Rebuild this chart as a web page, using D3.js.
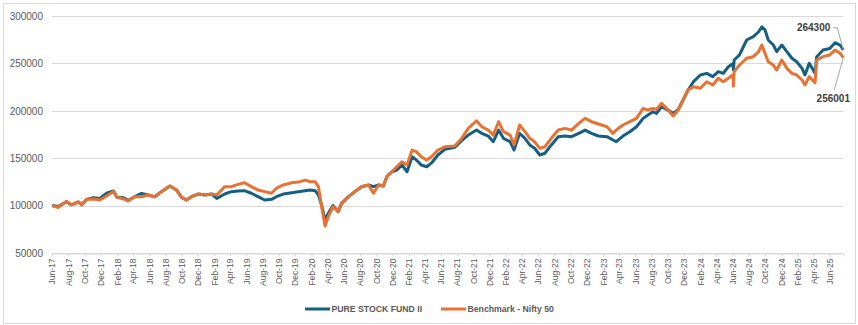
<!DOCTYPE html>
<html><head><meta charset="utf-8">
<script src="https://cdn.jsdelivr.net/npm/d3@7"></script>
<style>html,body{margin:0;padding:0;background:#fff;} svg{display:block;font-family:"Liberation Sans",Arial,sans-serif;}</style>
</head><body><svg id="c" width="858" height="325"></svg>
<script>
const dates = ["2017-06-01","2017-06-24","2017-07-25","2017-08-13","2017-09-08","2017-09-21","2017-10-09","2017-11-03","2017-11-28","2017-12-23",
"2018-01-18","2018-01-31","2018-02-25","2018-03-14","2018-04-08","2018-05-03","2018-05-28","2018-06-22","2018-07-17","2018-08-18",
"2018-09-12","2018-10-01","2018-10-19","2018-11-07","2018-12-02","2018-12-28","2019-01-22","2019-02-10","2019-03-12","2019-04-06",
"2019-05-01","2019-05-25","2019-06-20","2019-07-15","2019-08-09","2019-09-04","2019-09-22","2019-10-18","2019-11-19","2019-12-13",
"2020-01-08","2020-01-27","2020-02-15","2020-02-27","2020-03-10","2020-03-23","2020-04-04","2020-04-22","2020-05-11","2020-05-24",
"2020-06-19","2020-07-13","2020-08-07","2020-09-02","2020-09-21","2020-10-10","2020-10-28","2020-11-10","2020-11-29","2020-12-17",
"2021-01-06","2021-01-25","2021-02-13","2021-03-01","2021-03-19","2021-04-09","2021-04-27","2021-05-21","2021-06-16","2021-07-23",
"2021-08-18","2021-09-12","2021-10-13","2021-11-02","2021-11-26","2021-12-15","2022-01-04","2022-01-22","2022-02-16","2022-03-03",
"2022-03-24","2022-04-13","2022-05-01","2022-05-19","2022-06-08","2022-06-27","2022-07-21","2022-08-16","2022-09-10","2022-10-05",
"2022-11-01","2022-11-25","2022-12-19","2023-01-14","2023-02-15","2023-03-10","2023-03-22","2023-04-16","2023-05-12","2023-06-06",
"2023-07-01","2023-07-19","2023-08-07","2023-08-20","2023-09-08","2023-09-27","2023-10-22","2023-11-10","2023-11-28","2023-12-17",
"2024-01-06","2024-02-01","2024-02-25","2024-03-19","2024-04-08","2024-04-27","2024-05-16","2024-06-03","2024-06-04","2024-06-07",
"2024-06-27","2024-07-24","2024-08-18","2024-09-07","2024-09-19","2024-10-01","2024-10-13","2024-11-01","2024-11-14","2024-12-03",
"2024-12-22","2025-01-10","2025-01-28","2025-02-17","2025-02-28","2025-03-16","2025-04-07","2025-04-13","2025-05-07","2025-06-01",
"2025-06-21","2025-07-10","2025-07-22"];
const fund = [100000,99000,104000,100800,103800,100800,106600,108300,107600,113000,
115400,108700,108300,105500,109400,112800,111100,109400,114700,120600,
116400,108700,105900,109400,112200,111100,112200,107600,112200,114700,
115400,115700,113000,109400,105900,106600,109400,112200,113600,114700,
115700,116400,115700,111100,100600,84800,91800,100000,93600,102400,
109400,114700,119900,121700,120000,121700,120600,130500,135700,137500,
142800,135700,151600,148100,142800,141000,145000,153400,159300,161500,
168500,174400,179700,176200,173400,167400,179700,171000,167400,158600,
176200,171000,164000,160500,153400,155200,164000,172700,173400,172700,
176200,179700,176200,173400,172700,169200,167400,173400,177900,183200,
192000,195600,199000,197300,204300,201500,197300,201500,211400,221900,
230700,237800,239500,236000,241300,239500,246500,250000,243000,253600,
258900,274700,278200,283400,288700,285200,274700,269400,262400,269400,
262400,255400,251800,244800,237800,250100,239500,257100,264100,265800,
271800,269400,264300];
const bench = [100000,98000,104500,100800,103800,100800,106600,106900,105900,110200,
115000,108700,107000,104800,109400,109400,111100,109400,114700,120600,
116400,108700,105900,109400,112200,111100,112200,111100,120000,120000,
122400,124100,120000,116400,114700,113000,118300,121800,124100,124800,
126900,125200,125200,120000,98800,78500,88300,98800,93600,102400,
109400,114700,119900,121700,113000,121700,120600,130500,135700,141000,
146300,142800,158600,156900,151600,148100,151600,158600,162100,162800,
170900,181500,189500,183200,179700,174400,188500,178000,174400,164000,
185000,178000,171000,167400,160400,162100,171000,179700,181500,179700,
186800,192000,188500,186100,183200,176200,179700,185000,188500,192000,
202600,200800,202600,201500,207900,202600,194500,200800,211400,221900,
225400,223700,230700,227200,234300,230700,234300,238000,226000,241300,
248300,255400,257100,262400,269400,260600,251800,248300,243000,253600,
244800,239500,237800,232500,227200,236000,229600,253600,257100,258900,
264100,260600,256001];
const seriesNames = ["PURE STOCK FUND II","Benchmark - Nifty 50"];
const seriesColors = ["#156082","#E97132"];
const yTicks = [50000,100000,150000,200000,250000,300000];
const xStart = "2017-06-01";

const parse = d3.timeParse("%Y-%m-%d");
const D = dates.map(parse);
const svg = d3.select("#c");
svg.append("rect").attr("width",858).attr("height",325).attr("fill","#fff");
svg.append("rect").attr("x",3.5).attr("y",3.5).attr("width",852).attr("height",320)
  .attr("fill","none").attr("stroke","#d9d9d9").attr("stroke-width",1);

const x = d3.scaleTime().domain([parse(xStart), D[D.length-1]]).range([52, 843.3]);
const y = d3.scaleLinear().domain([50000,300000]).range([253,16]);

// gridlines
svg.append("g").selectAll("line").data(yTicks).join("line")
  .attr("x1",52).attr("x2",843.3)
  .attr("y1",d=>Math.round(y(d))+0.5).attr("y2",d=>Math.round(y(d))+0.5)
  .attr("stroke","#d9d9d9").attr("stroke-width",1);

// y axis labels
const ya = svg.append("g").attr("transform","translate(52,0)")
  .call(d3.axisLeft(y).tickValues(yTicks).tickSize(0).tickPadding(9).tickFormat(d3.format("d")));
ya.select(".domain").remove();
ya.selectAll("text").attr("fill","#595959").style("font-size","10px").style("font-family","'Liberation Sans',Arial,sans-serif");

// x axis
const xTicks = d3.timeMonth.range(parse(xStart), D[D.length-1], 2);
const xa = svg.append("g").attr("transform",`translate(0,${Math.round(y(50000))+0.5})`)
  .call(d3.axisBottom(x).tickValues(xTicks).tickSize(3).tickFormat(d3.timeFormat("%b-%y")));
xa.select(".domain").attr("stroke","#d9d9d9");
xa.selectAll(".tick line").attr("stroke","#d9d9d9");
xa.selectAll("text").attr("fill","#595959")
  .style("font-size","8.5px").style("font-family","'Liberation Sans Narrow','Liberation Sans',Arial,sans-serif")
  .attr("transform","rotate(-90)").attr("x",-5).attr("y",0).attr("dy","0.34em").style("text-anchor","end");

// lines
const line = d3.line().x((d,i)=>x(D[i])).y(d=>y(d));
[fund, bench].forEach((s,k)=>{
  svg.append("path").datum(s).attr("d",line).attr("fill","none")
    .attr("stroke",seriesColors[k]).attr("stroke-width",3).attr("stroke-linejoin","round");
});

// end labels
const lx = x(D[D.length-1]);
const fy = y(fund[fund.length-1]), by = y(bench[bench.length-1]);
svg.append("polyline").attr("points",`${lx-10},${fy-22} ${lx-6},${fy-22} ${lx},${fy}`)
  .attr("fill","none").attr("stroke","#a6a6a6").attr("stroke-width",1);
svg.append("text").attr("x",lx-13).attr("y",fy-18.5).attr("text-anchor","end")
  .attr("fill","#404040").style("font-size","10px").style("font-weight","bold").text(d3.format("d")(fund[fund.length-1]));
svg.append("line").attr("x1",lx-9).attr("y1",by+32).attr("x2",lx).attr("y2",by)
  .attr("stroke","#a6a6a6").attr("stroke-width",1);
svg.append("text").attr("x",lx-10).attr("y",by+44).attr("text-anchor","middle")
  .attr("fill","#404040").style("font-size","10px").style("font-weight","bold").text(d3.format("d")(bench[bench.length-1]));

// legend
const leg = [{x:305},{x:441}];
leg.forEach((l,k)=>{
  svg.append("line").attr("x1",l.x).attr("x2",l.x+25).attr("y1",309).attr("y2",309)
    .attr("stroke",seriesColors[k]).attr("stroke-width",3);
  svg.append("text").attr("x",l.x+26.5).attr("y",312.2).attr("fill","#595959")
    .style("font-size","8.7px").style("font-weight","bold").text(seriesNames[k]);
});
</script></body></html>
